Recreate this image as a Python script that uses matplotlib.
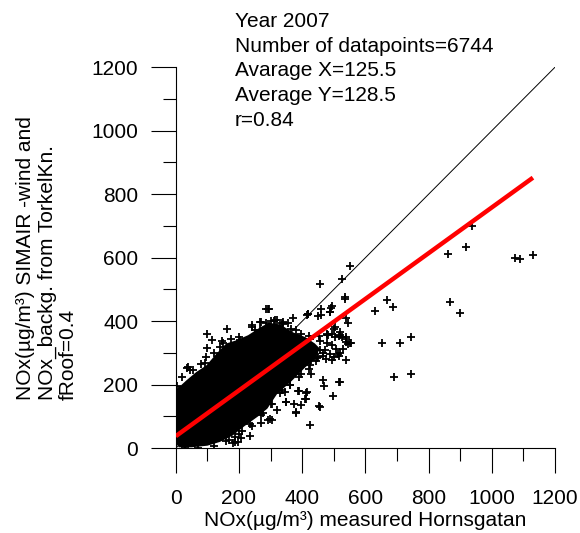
import numpy as np
import matplotlib.pyplot as plt

plt.rcParams['font.family'] = ['Liberation Sans', 'DejaVu Sans']

# outline of the solid black core of the scatter cloud (data units)
core_x = [0, 0, 34, 65, 97, 129, 160, 192, 229, 266, 294, 330, 371, 410, 440, 455,
          450, 440, 410, 367, 320, 290, 260, 218, 180, 140, 100, 50, 10]
core_y = [16, 183, 214, 240, 261, 298, 330, 340, 356, 380, 395, 390, 365, 350, 330, 315,
          300, 280, 255, 212, 170, 125, 100, 70, 40, 20, 8, 3, 3]

# individual measured/modelled pairs outside the solid core
meas_x = [937, 919, 860, 1073, 1089, 1130, 867, 900, 667, 688, 631, 744, 709, 652,
          744, 691, 534, 551, 526, 538, 545, 540, 545, 554, 519, 519,
          456, 292, 418, 459, 490, 487, 450, 371, 500, 477, 493, 516, 540, 551,
          456, 508, 516, 500, 456, 466, 475, 429, 466, 468, 516, 496, 454, 424,
          411, 413, 390, 373, 395, 380, 348, 319, 303, 297, 271,
          162, 99, 115, 147, 176, 99, 139, 97, 92, 36, 55, 9, 18, 240, 266, 287,
          187, 208, 234, 287, 39, 414, 319, 271, 240, 266, 203,
          382, 408, 414, 387, 456, 345, 350, 292, 197, 187,
          334, 355, 377, 398, 429, 450, 471, 493, 514, 482, 503, 519,
          419, 461, 489, 493, 535, 295, 313, 340, 355,
          453, 477, 503, 519, 527, 540, 477, 487, 493, 529, 540, 181,
          5, 20, 45, 80, 120, 150, 200, 250, 300, 340, 380, 420,
          30, 70, 120, 160, 200, 240, 270, 300, 330, 360, 390, 420, 445, 465,
          170, 210, 235, 275, 305, 335, 360, 395, 425, 448,
          310, 335, 365, 395, 425]
model_y = [699, 635, 611, 598, 596, 610, 462, 425, 466, 446, 431, 350, 331, 331,
           235, 223, 470, 573, 534, 410, 395, 349, 328, 330, 299, 209,
           517, 437, 424, 438, 443, 428, 418, 410, 375, 358, 359, 354, 345, 330,
           338, 311, 290, 286, 309, 290, 280, 235, 216, 197, 209, 164, 132, 72,
           175, 154, 180, 139, 135, 112, 146, 120, 88, 93, 78,
           377, 359, 340, 337, 345, 317, 319, 288, 267, 253, 246, 183, 146, 387, 398, 393,
           20, 31, 38, 440, 256, 419, 403, 398, 382, 372, 340,
           114, 154, 177, 180, 130, 177, 146, 88, 20, 36,
           209, 235, 256, 272, 277, 288, 309, 324, 298, 356, 351, 366,
           424, 419, 429, 447, 477, 440, 405, 398, 393,
           353, 361, 382, 356, 351, 335, 330, 298, 277, 314, 277, 17,
           195, 225, 245, 265, 300, 330, 350, 372, 400, 392, 372, 352,
           0, 2, 8, 22, 45, 70, 105, 140, 175, 200, 225, 250, 275, 300,
           25, 55, 75, 110, 140, 185, 200, 235, 262, 285,
           400, 395, 375, 360, 345]

# 1:1 reference and fitted regression line
ref_x = [0, 1200]
ref_y = [0, 1200]
fit_x = [0, 1130]
fit_y = [38, 852]

stats_text = ["Year 2007", "Number of datapoints=6744", "Avarage X=125.5",
              "Average Y=128.5", "r=0.84"]


def main() -> None:
    fig = plt.figure(figsize=(5.8, 5.33), dpi=100)
    ax = fig.add_axes([0.303, 0.159, 0.654, 0.715])

    ax.fill(core_x, core_y, color="black", lw=0, zorder=2)
    ax.plot(meas_x, model_y, '+', color="black", ms=5.5, mew=1.3, zorder=3)
    ax.plot(ref_x, ref_y, color="black", lw=0.7, zorder=4)
    ax.plot(fit_x, fit_y, color="red", lw=3.2, solid_capstyle='butt', zorder=5)

    ax.set_xlim(0, 1200)
    ax.set_ylim(0, 1200)
    ax.set_xticks(np.arange(0, 1201, 200))
    ax.set_yticks(np.arange(0, 1201, 200))
    ax.set_xticks(np.arange(100, 1200, 200), minor=True)
    ax.set_yticks(np.arange(100, 1200, 200), minor=True)
    for side in ("top", "right"):
        ax.spines[side].set_visible(False)
    for side in ("left", "bottom"):
        ax.spines[side].set_linewidth(0.8)
    ax.tick_params(which='major', direction='out', length=18, width=0.8,
                   labelsize=15, pad=9)
    ax.tick_params(axis='x', which='major', pad=11)
    ax.tick_params(which='minor', direction='out', length=9.5, width=0.8)

    ax.set_xlabel("NOx(µg/m³) measured Hornsgatan", fontsize=15, labelpad=2.5)
    ax.set_ylabel("NOx(µg/m³) SIMAIR -wind and\nNOx_backg. from TorkelKn.\nfRoof=0.4",
                  fontsize=15, multialignment='left', linespacing=1.15, labelpad=9.5)

    fig.text(0.405, 1 - 12 / 533, "\n".join(stats_text), fontsize=15,
             ha='left', va='top', linespacing=1.38)

    fig.savefig("out.png", dpi=100)


if __name__ == "__main__":
    main()
